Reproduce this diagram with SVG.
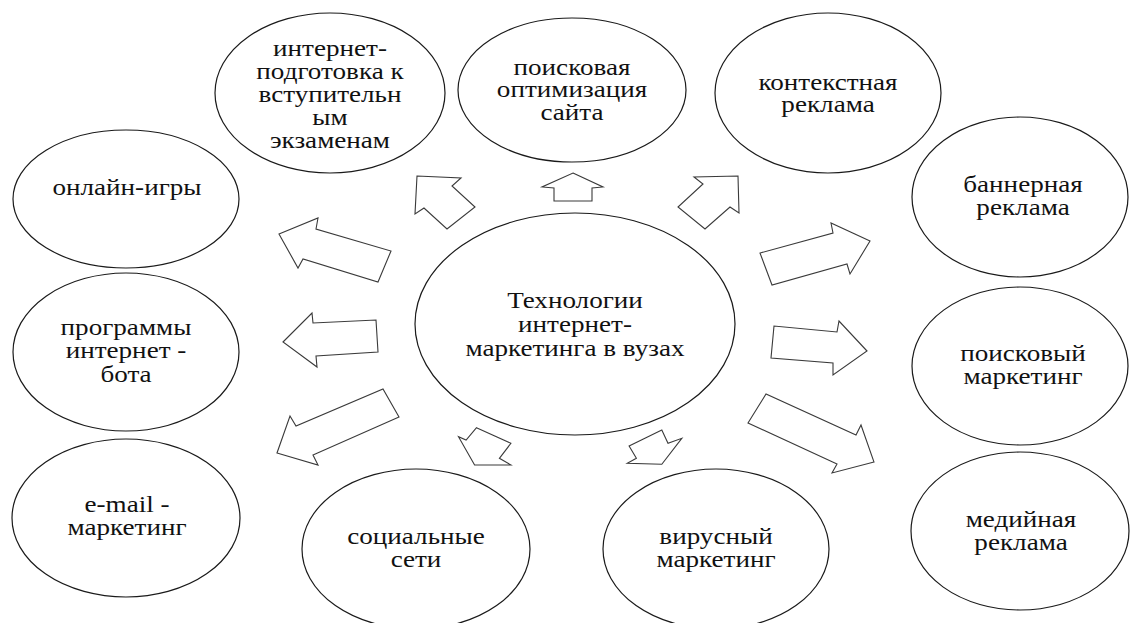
<svg xmlns="http://www.w3.org/2000/svg" width="1130" height="623" viewBox="0 0 1130 623">
<style>
.n ellipse{fill:#fff;stroke:#1a1a1a;stroke-width:1.2}
.n text{font-family:'Liberation Serif','DejaVu Serif','Times New Roman',serif;font-size:24px;fill:#111;text-anchor:middle}
#connectors polygon{fill:#fff;stroke:#3a3a3a;stroke-width:1.1;stroke-linejoin:miter}
</style>
<rect width="1130" height="623" fill="#fff"/>
<g id="connectors">
<polygon points="279,234 318,218 316,229 391,251 378,282 303,259 298,268"/>
<polygon points="417,176 461,178 452,186 475,207 447,229 424,208 415,214"/>
<polygon points="573,173 603,187 592,188 592,201 554,201 554,188 542,187"/>
<polygon points="738,176 739,213 730,207 705,229 678,207 703,184 694,177"/>
<polygon points="870,241 831,223 833,233 760,253 772,285 847,264 850,274"/>
<polygon points="867,351 839,321 837,332 774,326 771,358 833,363 833,375"/>
<polygon points="874,462 832,473 837,464 748,423 766,394 856,435 861,425"/>
<polygon points="283,342 312,313 313,323 376,320 378,352 316,356 317,367"/>
<polygon points="277,453 318,465 313,455 399,417 383,389 296,426 290,416"/>
<polygon points="476.5,427.7 510.9,443.3 499.4,458.3 510.9,465 474.6,465 458.5,436.7 466.1,440"/>
<polygon points="661.8,430 668,443.3 681.8,438.3 661.8,464.3 627.3,463.3 636.4,458.3 629.1,446"/>
</g>
<g id="center" class="n">
<ellipse cx="575" cy="324" rx="160" ry="111"/>
<text transform="translate(575 0) scale(1.13 1)"><tspan x="0" y="308">Технологии</tspan><tspan x="0" y="332">интернет-</tspan><tspan x="0" y="356">маркетинга в вузах</tspan></text>
</g>
<g id="n-prep" class="n">
<ellipse cx="330" cy="93" rx="115" ry="80"/>
<text transform="translate(330 0) scale(1.13 1)"><tspan x="0" y="56">интернет-</tspan><tspan x="0" y="79">подготовка к</tspan><tspan x="0" y="102">вступительн</tspan><tspan x="0" y="125">ым</tspan><tspan x="0" y="148">экзаменам</tspan></text>
</g>
<g id="n-seo" class="n">
<ellipse cx="572" cy="90" rx="114" ry="72"/>
<text transform="translate(572 0) scale(1.13 1)"><tspan x="0" y="75">поисковая</tspan><tspan x="0" y="97.5">оптимизация</tspan><tspan x="0" y="120">сайта</tspan></text>
</g>
<g id="n-context" class="n">
<ellipse cx="828" cy="93" rx="113" ry="80"/>
<text transform="translate(828 0) scale(1.13 1)"><tspan x="0" y="90">контекстная</tspan><tspan x="0" y="112.5">реклама</tspan></text>
</g>
<g id="n-banner" class="n">
<ellipse cx="1020" cy="197" rx="108" ry="80"/>
<text transform="translate(1023 0) scale(1.13 1)"><tspan x="0" y="192">баннерная</tspan><tspan x="0" y="215">реклама</tspan></text>
</g>
<g id="n-search" class="n">
<ellipse cx="1020" cy="366" rx="108" ry="79"/>
<text transform="translate(1023 0) scale(1.13 1)"><tspan x="0" y="361">поисковый</tspan><tspan x="0" y="384">маркетинг</tspan></text>
</g>
<g id="n-media" class="n">
<ellipse cx="1020" cy="531" rx="109" ry="79"/>
<text transform="translate(1021 0) scale(1.13 1)"><tspan x="0" y="527">медийная</tspan><tspan x="0" y="550">реклама</tspan></text>
</g>
<g id="n-games" class="n">
<ellipse cx="126" cy="199" rx="113" ry="69"/>
<text transform="translate(127 0) scale(1.13 1)"><tspan x="0" y="195">онлайн-игры</tspan></text>
</g>
<g id="n-bot" class="n">
<ellipse cx="126" cy="352" rx="113" ry="79"/>
<text transform="translate(126 0) scale(1.13 1)"><tspan x="0" y="335">программы</tspan><tspan x="0" y="358.5">интернет -</tspan><tspan x="0" y="382">бота</tspan></text>
</g>
<g id="n-email" class="n">
<ellipse cx="126" cy="518" rx="114" ry="79"/>
<text transform="translate(127 0) scale(1.13 1)"><tspan x="0" y="512">e-mail -</tspan><tspan x="0" y="535">маркетинг</tspan></text>
</g>
<g id="n-social" class="n">
<ellipse cx="416" cy="549" rx="114" ry="80"/>
<text transform="translate(416 0) scale(1.13 1)"><tspan x="0" y="544">социальные</tspan><tspan x="0" y="567">сети</tspan></text>
</g>
<g id="n-viral" class="n">
<ellipse cx="716" cy="549" rx="113" ry="80"/>
<text transform="translate(716 0) scale(1.13 1)"><tspan x="0" y="544">вирусный</tspan><tspan x="0" y="567">маркетинг</tspan></text>
</g>
</svg>
